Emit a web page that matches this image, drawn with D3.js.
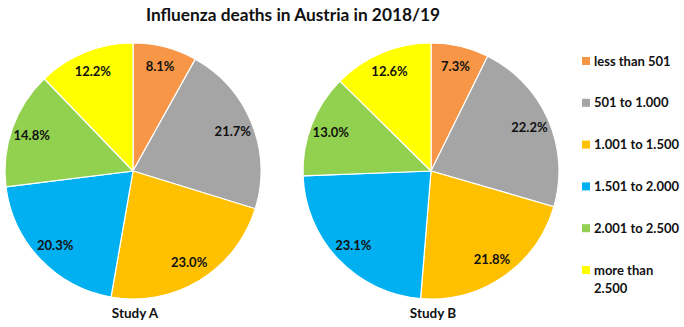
<!DOCTYPE html>
<html>
<head>
<meta charset="utf-8">
<script src="https://cdn.jsdelivr.net/npm/d3@7"></script>
<style>
  body { margin: 0; background: #fff; }
  text { font-family: Lato, "Open Sans", sans-serif; font-weight: bold; fill: #111; }
</style>
</head>
<body>
<div id="chart"></div>
<script>
const width = 684
const height = 327

const categories = ["less than 501", "501 to 1.000", "1.001 to 1.500", "1.501 to 2.000", "2.001 to 2.500", "more than 2.500"]
const colors = ["#F79646", "#A5A5A5", "#FFC000", "#00B0F0", "#92D050", "#FFFF00"]
const studies = ["Study A", "Study B"]
const studyA = [8.1, 21.7, 23.0, 20.3, 14.8, 12.2]
const studyB = [7.3, 22.2, 21.8, 23.1, 13.0, 12.6]

const color = d3.scaleOrdinal().domain(categories).range(colors)

const svg = d3.select("#chart")
    .append("svg")
    .attr("width", width)
    .attr("height", height)

svg.append("text")
    .attr("x", 293)
    .attr("y", 21)
    .attr("text-anchor", "middle")
    .style("font-size", "17.3px")
    .text("Influenza deaths in Austria in 2018/19")

const radius = 128
const pie = d3.pie().sort(null).value(d => d.value)
const arc = d3.arc().innerRadius(0).outerRadius(radius)
const labelArc = d3.arc().innerRadius(radius * 0.84).outerRadius(radius * 0.84)

const centers = [[133, 171], [431, 171]]

;[studyA, studyB].forEach((vals, i) => {
  const data = categories.map((c, j) => ({ cat: c, value: vals[j] }))
  const g = svg.append("g").attr("transform", `translate(${centers[i][0]},${centers[i][1]})`)

  g.selectAll("path")
    .data(pie(data))
    .join("path")
    .attr("d", arc)
    .attr("fill", d => color(d.data.cat))
    .attr("stroke", "#fff")
    .attr("stroke-width", 1.2)

  g.selectAll("text.lbl")
    .data(pie(data))
    .join("text")
    .attr("class", "lbl")
    .attr("transform", d => `translate(${labelArc.centroid(d)})`)
    .attr("text-anchor", "middle")
    .attr("dy", "0.35em")
    .style("font-size", "13px")
    .text(d => d.data.value.toFixed(1) + "%")

  g.append("text")
    .attr("x", 2)
    .attr("y", radius + 14)
    .attr("dy", "0.35em")
    .attr("text-anchor", "middle")
    .style("font-size", "13.5px")
    .text(studies[i])
})

// legend
const legend = svg.append("g").attr("transform", "translate(582,0)")
const rowY = d3.scalePoint().domain(categories).range([61, 270])

categories.forEach(c => {
  const row = legend.append("g").attr("transform", `translate(0,${rowY(c)})`)
  row.append("rect")
    .attr("x", 0).attr("y", -4)
    .attr("width", 8).attr("height", 8)
    .attr("fill", color(c))
  const parts = c === "more than 2.500" ? ["more than", "2.500"] : [c]
  parts.forEach((p, k) => {
    row.append("text")
      .attr("x", 12)
      .attr("y", k * 18)
      .attr("dy", "0.35em")
      .style("font-size", "13px")
      .text(p)
  })
})
</script>
</body>
</html>
